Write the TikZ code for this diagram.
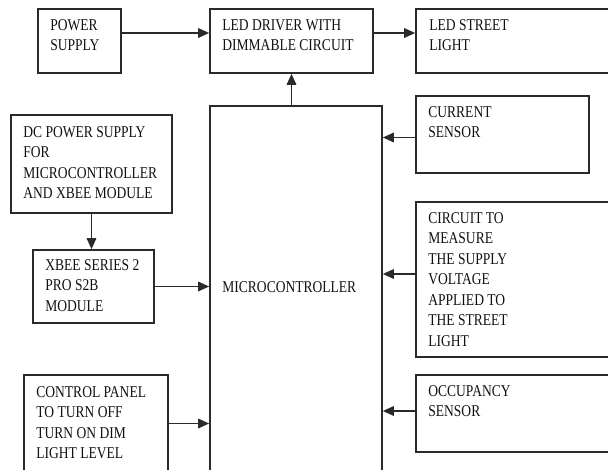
\documentclass[tikz,border=0pt]{standalone}
\usepackage{fontspec}
\setmainfont{Liberation Serif}[FakeStretch=0.82]
\usetikzlibrary{fit,arrows.meta}
\definecolor{ln}{HTML}{2A2A2A}
\definecolor{tx}{HTML}{101010}
\tikzset{
  box/.style={draw=ln, line width=1.6pt, inner sep=0pt, fill=none},
  txt/.style={inner sep=0pt, anchor=north west, align=left, text=tx,
    font=\fontsize{16.5}{20.5}\selectfont},
  arr/.style={draw=ln, line width=1.6pt, -{Triangle[length=11pt,width=9.5pt]}}
}
\begin{document}
\begin{tikzpicture}[x=1pt,y=-1pt]
\useasboundingbox (0,0) rectangle (608,469);
\clip (0,0) rectangle (608,469);
% boxes
\node[box, fit={(38,9) (121,73)}] (ps) {};
\node[box, fit={(210,9) (373,73)}] (drv) {};
\node[box, fit={(416,9) (614,73)}] (led) {};
\node[box, fit={(416,96) (589,173)}] (cur) {};
\node[box, fit={(11,115) (172,213)}] (dc) {};
\node[box, fit={(210,106) (382,474)}] (mcu) {};
\node[box, fit={(416,202) (614,357)}] (circ) {};
\node[box, fit={(33,250) (154,323)}] (xbee) {};
\node[box, fit={(24,375) (168,472)}] (ctrl) {};
\node[box, fit={(416,375) (614,452)}] (occ) {};
% texts
\node[txt] (tps) at ([shift={(13,11)}]ps.north west) {POWER\\SUPPLY};
\node[txt] (tdrv) at ([shift={(13,11)}]drv.north west) {LED DRIVER WITH\\DIMMABLE CIRCUIT};
\node[txt] (tled) at ([shift={(14,11)}]led.north west) {LED STREET\\LIGHT};
\node[txt] (tcur) at ([shift={(13,11)}]cur.north west) {CURRENT\\SENSOR};
\node[txt] (tdc) at ([shift={(13,12)}]dc.north west) {DC POWER SUPPLY\\FOR\\MICROCONTROLLER\\AND XBEE MODULE};
\node[txt] (tmcu) at ([shift={(13,176)}]mcu.north west) {MICROCONTROLLER};
\node[txt] (tcirc) at ([shift={(13,11)}]circ.north west) {CIRCUIT TO\\MEASURE\\THE SUPPLY\\VOLTAGE\\APPLIED TO\\THE STREET\\LIGHT};
\node[txt] (txbee) at ([shift={(13,10)}]xbee.north west) {XBEE SERIES 2\\PRO S2B\\MODULE};
\node[txt] (tctrl) at ([shift={(13,12)}]ctrl.north west) {CONTROL PANEL\\TO TURN OFF\\TURN ON DIM\\LIGHT LEVEL};
\node[txt] (tocc) at ([shift={(13,11)}]occ.north west) {OCCUPANCY\\SENSOR};
% connectors
\draw[arr] ([yshift=8pt]ps.east) -- ([yshift=8pt]ps.east -| drv.west);
\draw[arr] ([yshift=8pt]drv.east) -- ([yshift=8pt]drv.east -| led.west);
\draw[arr] (drv.south |- mcu.north) -- (drv.south);
\draw[arr] ([yshift=-3pt]cur.west) -- ([yshift=-3pt]cur.west -| mcu.east);
\draw[arr] ([yshift=5.5pt]circ.west) -- ([yshift=5.5pt]circ.west -| mcu.east);
\draw[arr] ([yshift=2.5pt]occ.west) -- ([yshift=2.5pt]occ.west -| mcu.east);
\draw[arr] (dc.south) -- (dc.south |- xbee.north);
\draw[arr] (xbee.east) -- (xbee.east -| mcu.west);
\draw[arr] (ctrl.east) -- (ctrl.east -| mcu.west);
\end{tikzpicture}
\end{document}
